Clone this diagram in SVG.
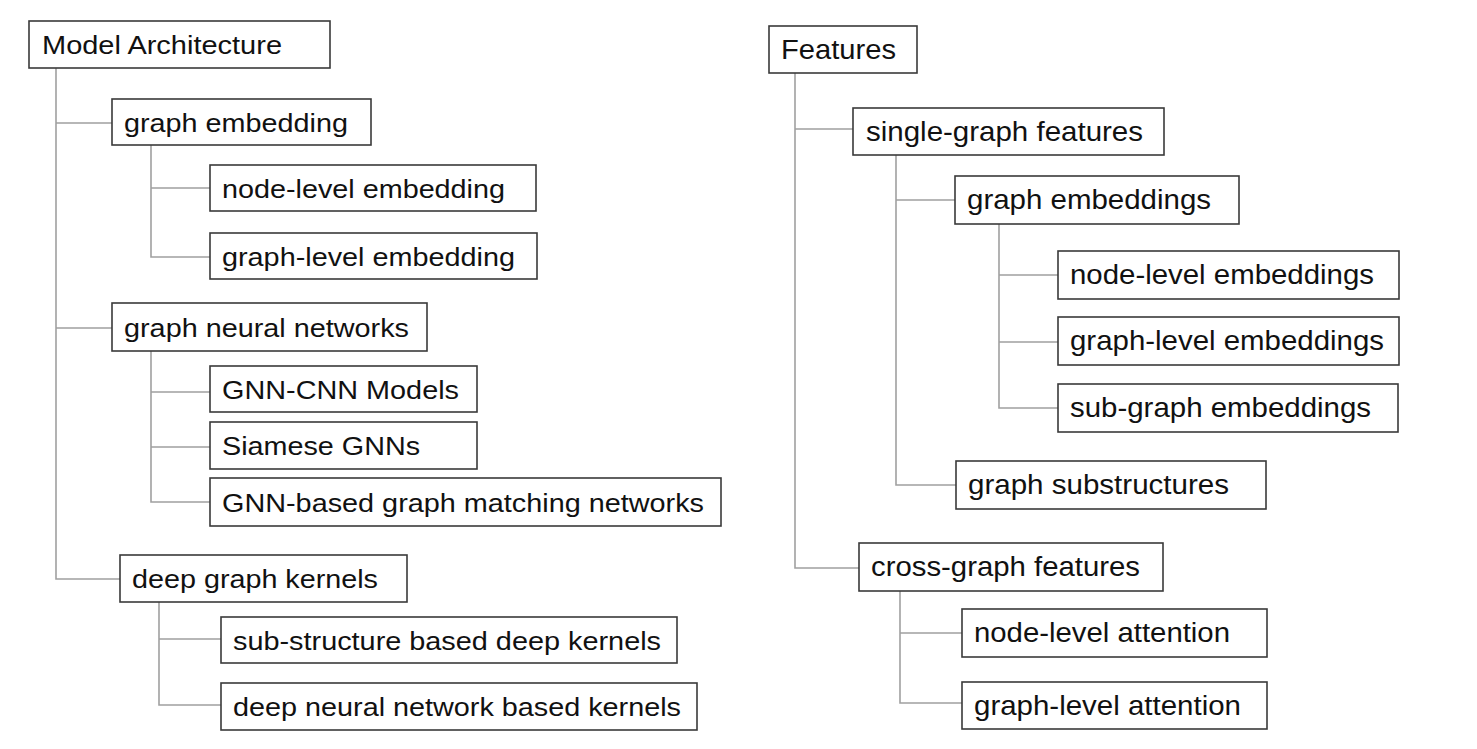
<svg xmlns="http://www.w3.org/2000/svg" width="1477" height="749" viewBox="0 0 1477 749">
<style>
.box{fill:#fff;stroke:#3a3a3a;stroke-width:1.6}
.ln{fill:none;stroke:#a0a0a0;stroke-width:1.6}
text{font-family:"Liberation Sans",Arial,Helvetica,sans-serif;fill:#111}
.l{font-size:26px}
.r{font-size:27.5px}
</style>
<rect width="1477" height="749" fill="#fff"/>
<g id="connectors">
<path class="ln" d="M56 68V579H120M56 123H112M56 328H112"/>
<path class="ln" d="M151 145V257H210M151 188H210"/>
<path class="ln" d="M151 351V502H210M151 392H210M151 447H210"/>
<path class="ln" d="M159 602V705H221M159 639H221"/>
<path class="ln" d="M795 73V568H859M795 129H853"/>
<path class="ln" d="M896 155V485H956M896 200H955"/>
<path class="ln" d="M999 224V408H1058M999 275H1058M999 342H1058"/>
<path class="ln" d="M900 591V703H962M900 633H962"/>
</g>
<g id="n-model-architecture"><rect class="box" x="29" y="21" width="301" height="47"/><text class="l" x="42" y="54" textLength="240" lengthAdjust="spacingAndGlyphs">Model Architecture</text></g>
<g id="n-graph-embedding"><rect class="box" x="112" y="99" width="259" height="46"/><text class="l" x="124" y="132" textLength="224" lengthAdjust="spacingAndGlyphs">graph embedding</text></g>
<g id="n-node-level-embedding"><rect class="box" x="210" y="165" width="326" height="46"/><text class="l" x="222" y="198" textLength="283" lengthAdjust="spacingAndGlyphs">node-level embedding</text></g>
<g id="n-graph-level-embedding"><rect class="box" x="210" y="233" width="327" height="46"/><text class="l" x="222" y="266" textLength="293" lengthAdjust="spacingAndGlyphs">graph-level embedding</text></g>
<g id="n-graph-neural-networks"><rect class="box" x="112" y="303" width="315" height="48"/><text class="l" x="124" y="337" textLength="285" lengthAdjust="spacingAndGlyphs">graph neural networks</text></g>
<g id="n-gnn-cnn"><rect class="box" x="210" y="366" width="267" height="46"/><text class="l" x="222" y="399" textLength="237" lengthAdjust="spacingAndGlyphs">GNN-CNN Models</text></g>
<g id="n-siamese"><rect class="box" x="210" y="422" width="267" height="47"/><text class="l" x="222" y="455" textLength="198" lengthAdjust="spacingAndGlyphs">Siamese GNNs</text></g>
<g id="n-gnn-matching"><rect class="box" x="210" y="478" width="511" height="48"/><text class="l" x="222" y="512" textLength="482" lengthAdjust="spacingAndGlyphs">GNN-based graph matching networks</text></g>
<g id="n-deep-graph-kernels"><rect class="box" x="120" y="555" width="287" height="47"/><text class="l" x="132" y="588" textLength="246" lengthAdjust="spacingAndGlyphs">deep graph kernels</text></g>
<g id="n-substructure-kernels"><rect class="box" x="221" y="617" width="456" height="46"/><text class="l" x="233" y="650" textLength="428" lengthAdjust="spacingAndGlyphs">sub-structure based deep kernels</text></g>
<g id="n-dnn-kernels"><rect class="box" x="221" y="683" width="476" height="47"/><text class="l" x="233" y="716" textLength="448" lengthAdjust="spacingAndGlyphs">deep neural network based kernels</text></g>
<g id="n-features"><rect class="box" x="769" y="26" width="148" height="47"/><text class="r" x="781" y="59" textLength="115" lengthAdjust="spacingAndGlyphs">Features</text></g>
<g id="n-single-graph"><rect class="box" x="853" y="108" width="311" height="47"/><text class="r" x="866" y="141" textLength="277" lengthAdjust="spacingAndGlyphs">single-graph features</text></g>
<g id="n-graph-embeddings"><rect class="box" x="955" y="176" width="284" height="48"/><text class="r" x="967" y="209" textLength="244" lengthAdjust="spacingAndGlyphs">graph embeddings</text></g>
<g id="n-node-level-embeddings"><rect class="box" x="1058" y="251" width="341" height="48"/><text class="r" x="1070" y="284" textLength="304" lengthAdjust="spacingAndGlyphs">node-level embeddings</text></g>
<g id="n-graph-level-embeddings"><rect class="box" x="1058" y="317" width="341" height="48"/><text class="r" x="1070" y="350" textLength="314" lengthAdjust="spacingAndGlyphs">graph-level embeddings</text></g>
<g id="n-sub-graph-embeddings"><rect class="box" x="1058" y="384" width="340" height="48"/><text class="r" x="1070" y="417" textLength="301" lengthAdjust="spacingAndGlyphs">sub-graph embeddings</text></g>
<g id="n-graph-substructures"><rect class="box" x="956" y="461" width="310" height="48"/><text class="r" x="968" y="494" textLength="261" lengthAdjust="spacingAndGlyphs">graph substructures</text></g>
<g id="n-cross-graph"><rect class="box" x="859" y="543" width="304" height="48"/><text class="r" x="871" y="576" textLength="269" lengthAdjust="spacingAndGlyphs">cross-graph features</text></g>
<g id="n-node-level-attention"><rect class="box" x="962" y="609" width="305" height="48"/><text class="r" x="974" y="642" textLength="256" lengthAdjust="spacingAndGlyphs">node-level attention</text></g>
<g id="n-graph-level-attention"><rect class="box" x="962" y="682" width="305" height="47"/><text class="r" x="974" y="715" textLength="267" lengthAdjust="spacingAndGlyphs">graph-level attention</text></g>
</svg>
